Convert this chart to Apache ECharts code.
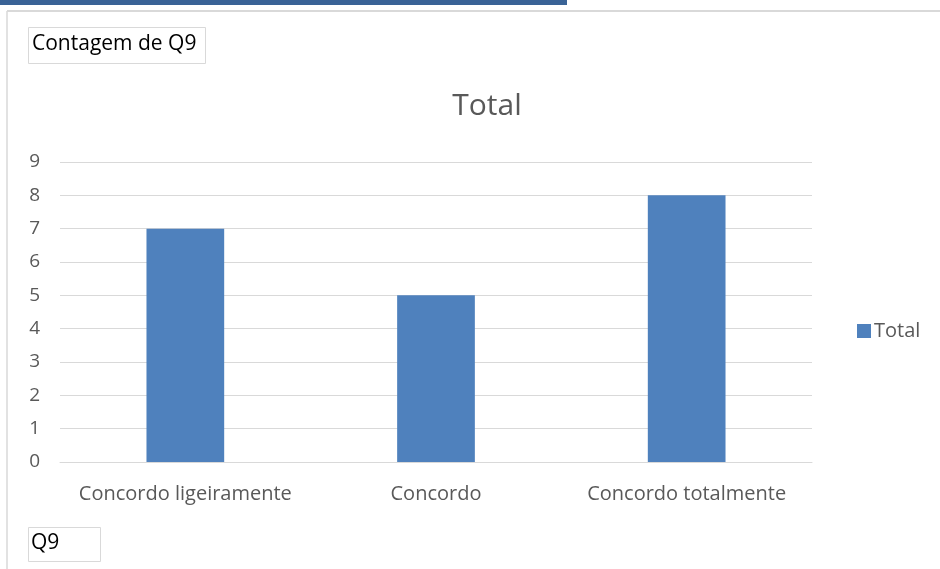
<!DOCTYPE html>
<html>
<head>
<meta charset="utf-8">
<script src="https://cdn.jsdelivr.net/npm/echarts@6/dist/echarts.min.js"></script>
<style>
html,body{margin:0;padding:0;background:#fff;}
#c{width:940px;height:569px;}
</style>
</head>
<body>
<div id="c"></div>
<script>
const categories = ["Concordo ligeiramente", "Concordo", "Concordo totalmente"];
const totalValues = [7, 5, 8];
const yTicks = [0, 1, 2, 3, 4, 5, 6, 7, 8, 9];
const seriesName = "Total";
const chartTitle = "Total";
const fieldLabel = "Contagem de Q9";
const axisFieldLabel = "Q9";

const FONT = "'Open Sans', 'Noto Sans', sans-serif";
const chart = echarts.init(document.getElementById('c'));
chart.setOption({
  animation: false,
  backgroundColor: '#fff',
  title: {
    text: chartTitle,
    left: 482, top: 86,
    textAlign: 'center',
    textStyle: { fontFamily: FONT, fontSize: 30, fontWeight: 'normal', color: '#595959' }
  },
  legend: {
    data: [seriesName],
    left: 852, top: 316,
    itemWidth: 14, itemHeight: 14, itemGap: 6,
    icon: 'rect',
    textStyle: { fontFamily: FONT, fontSize: 20, color: '#595959', padding: [0,0,0,-2] }
  },
  grid: { left: 60, right: 128, top: 162, bottom: 107 },
  xAxis: {
    type: 'category',
    data: categories,
    axisLine: { lineStyle: { color: '#d9d9d9', width: 1 } },
    axisTick: { show: false },
    axisLabel: { interval: 0, hideOverlap: false, fontFamily: FONT, fontSize: 20, color: '#595959', margin: 22 }
  },
  yAxis: {
    type: 'value',
    min: 0, max: yTicks[yTicks.length - 1], interval: 1,
    axisLine: { show: false },
    axisTick: { show: false },
    splitLine: { lineStyle: { color: '#d9d9d9', width: 1 } },
    axisLabel: { fontFamily: FONT, fontSize: 19, color: '#595959', margin: 20,
      formatter: v => yTicks.includes(v) ? String(v) : '' }
  },
  series: [{
    name: seriesName,
    type: 'bar',
    data: totalValues,
    barWidth: '31%',
    itemStyle: { color: '#4f81bd' }
  }],
  graphic: [
    { type: 'rect', shape: { x: 0, y: 0, width: 567, height: 5 }, style: { fill: '#3a6396' } },
    { type: 'line', shape: { x1: 7, y1: 11, x2: 940, y2: 11 }, style: { stroke: '#d9d9d9', lineWidth: 2 } },
    { type: 'line', shape: { x1: 7, y1: 11, x2: 7, y2: 569 }, style: { stroke: '#d9d9d9', lineWidth: 1.5 } },
    { type: 'rect', shape: { x: 28.5, y: 27.5, width: 177, height: 36 }, style: { fill: '#fff', stroke: '#d9d9d9', lineWidth: 1 } },
    { type: 'text', left: 32, top: 34, style: { text: fieldLabel, font: "21px " + FONT, fill: '#000' } },
    { type: 'rect', shape: { x: 28.5, y: 527.5, width: 72, height: 34 }, style: { fill: '#fff', stroke: '#d9d9d9', lineWidth: 1 } },
    { type: 'text', left: 31, top: 533, style: { text: axisFieldLabel, font: "21px " + FONT, fill: '#000' } }
  ]
});
</script>
</body>
</html>
